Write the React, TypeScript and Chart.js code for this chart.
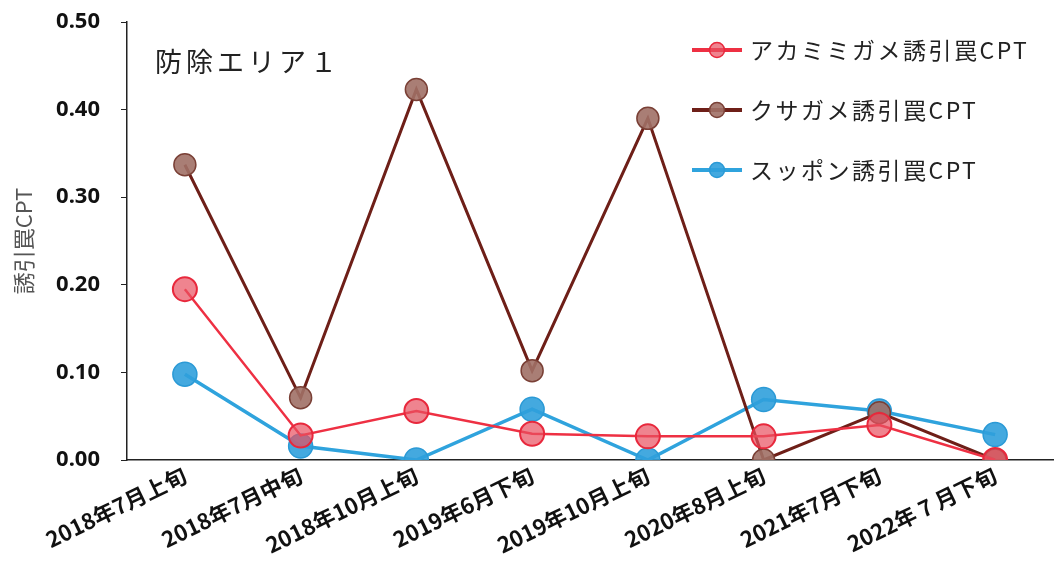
import React, { useEffect, useRef } from "react";
import { Chart, registerables } from "chart.js";

Chart.register(...registerables);

const categories = [
  "2018年7月上旬",
  "2018年7月中旬",
  "2018年10月上旬",
  "2019年6月下旬",
  "2019年10月上旬",
  "2020年8月上旬",
  "2021年7月下旬",
  "2022年 7 月下旬",
];

const akamimiValues = [0.195, 0.028, 0.056, 0.03, 0.027, 0.027, 0.04, 0.0];
const kusagameValues = [0.337, 0.071, 0.423, 0.102, 0.39, 0.0, 0.054, 0.0];
const suppponValues = [0.098, 0.016, 0.0, 0.058, 0.0, 0.069, 0.056, 0.029];

const seriesNames = ["アカミミガメ誘引罠CPT", "クサガメ誘引罠CPT", "スッポン誘引罠CPT"];
const yTicks = [0, 0.1, 0.2, 0.3, 0.4, 0.5];
const chartTitle = "防除エリア１";
const yTitle = "誘引罠CPT";

const JP = "'Noto Sans CJK JP', 'Noto Sans', sans-serif";

export default function App() {
  const ref = useRef<HTMLCanvasElement | null>(null);

  useEffect(() => {
    document.body.style.margin = "0";
    const canvas = ref.current;
    if (!canvas) return;

    const overlay = {
      id: "overlay",
      afterDraw(chart: any) {
        const { ctx, chartArea } = chart;
        ctx.save();
        // title
        ctx.fillStyle = "#222";
        ctx.font = `27px ${JP}`;
        (ctx as any).letterSpacing = "4px";
        ctx.textBaseline = "middle";
        ctx.textAlign = "left";
        ctx.fillText(chartTitle, chartArea.left + 28, chartArea.top + 40);
        // legend
        const ds = chart.data.datasets;
        const x0 = chartArea.right - 361;
        ds.forEach((d: any, i: number) => {
          const y = chartArea.top + 28 + i * 60;
          ctx.strokeStyle = d.borderColor;
          ctx.lineWidth = 4;
          ctx.beginPath();
          ctx.moveTo(x0, y);
          ctx.lineTo(x0 + 50, y);
          ctx.stroke();
          ctx.beginPath();
          ctx.arc(x0 + 25, y, 7.5, 0, Math.PI * 2);
          ctx.fillStyle = d.pointBackgroundColor;
          ctx.fill();
          ctx.lineWidth = 1.5;
          ctx.strokeStyle = d.pointBorderColor;
          ctx.stroke();
          ctx.fillStyle = "#222";
          ctx.font = `23px ${JP}`;
          (ctx as any).letterSpacing = "2.5px";
          ctx.fillText(d.label, x0 + 58, y);
        });
        ctx.restore();
      },
    };

    const chart = new Chart(canvas, {
      type: "line",
      data: {
        labels: categories,
        datasets: [
          {
            label: seriesNames[0],
            data: akamimiValues,
            borderColor: "#EE3043",
            borderWidth: 2.5,
            pointRadius: 12,
            pointBackgroundColor: "rgba(232,80,95,0.7)",
            pointBorderColor: "#E8283C",
            pointBorderWidth: 2,
            tension: 0,
          },
          {
            label: seriesNames[1],
            data: kusagameValues,
            borderColor: "#6E1F18",
            borderWidth: 3,
            pointRadius: 11,
            pointBackgroundColor: "rgba(160,112,102,0.9)",
            pointBorderColor: "#7A4036",
            pointBorderWidth: 1.5,
            tension: 0,
          },
          {
            label: seriesNames[2],
            data: suppponValues,
            borderColor: "#2FA3DD",
            borderWidth: 3.5,
            pointRadius: 12,
            pointBackgroundColor: "rgba(48,160,220,0.9)",
            pointBorderColor: "#2B9AD6",
            pointBorderWidth: 1.5,
            tension: 0,
          },
        ],
      },
      options: {
        animation: false,
        responsive: false,
        layout: { autoPadding: false, padding: { top: 22, right: 2, left: 0, bottom: 0 } },
        plugins: {
          legend: { display: false },
          tooltip: { enabled: false },
        },
        scales: {
          x: {
            offset: true,
            grid: { display: true, drawOnChartArea: false, drawTicks: false },
            border: { display: true, color: "#222", width: 1.5 },
            ticks: {
              minRotation: 26,
              maxRotation: 26,
              color: "#111",
              padding: 2,
              font: { family: JP, size: 22, weight: "bold" },
            },
            afterFit(scale: any) {
              scale.height = 103;
              scale.paddingRight = 0;
            },
          },
          y: {
            min: 0,
            max: 0.5,
            afterBuildTicks(scale: any) {
              scale.ticks = yTicks.map((v) => ({ value: v }));
            },
            grid: { display: true, drawOnChartArea: false, drawTicks: true, tickLength: 6, color: "#222" },
            border: { display: true, color: "#222", width: 1.5 },
            ticks: {
              color: "#111",
              padding: 21,
              font: { family: "'Noto Sans', sans-serif", size: 22, weight: "bold" },
              callback: (v: any) => Number(v).toFixed(2),
            },
            title: {
              display: true,
              text: yTitle,
              color: "#555",
              font: { family: JP, size: 22 },
              padding: { top: 10, bottom: 8 },
            },
            afterFit(scale: any) {
              scale.width = 127;
              scale.paddingTop = 14;
            },
          },
        },
      },
      plugins: [overlay],
    });

    return () => chart.destroy();
  }, []);

  return <canvas ref={ref} width={1055} height={563} style={{ display: "block" }} />;
}
